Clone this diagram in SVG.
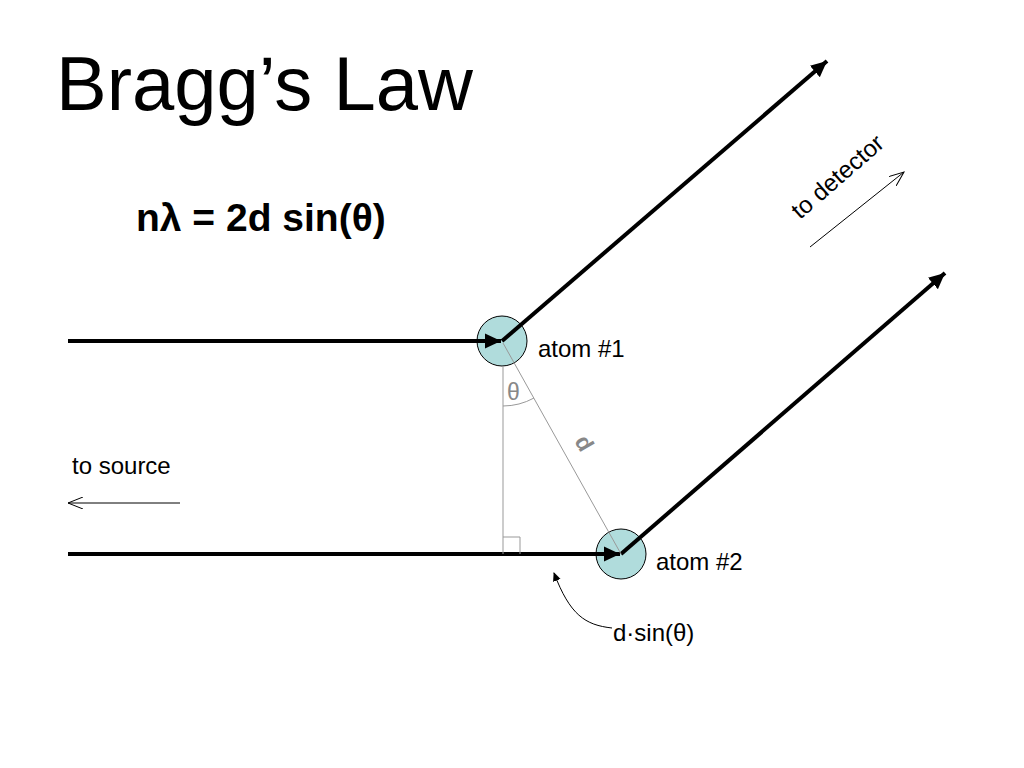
<svg xmlns="http://www.w3.org/2000/svg" width="1024" height="768" viewBox="0 0 1024 768">
<style>
text{font-family:"Liberation Sans",Arial,sans-serif;fill:#000}
.beam{stroke:#000;stroke-width:4;fill:none}
.thin{stroke:#000;stroke-width:1;fill:none}
.gray{stroke:#999;stroke-width:1;fill:none}
.atom{fill:#b0dcdc;stroke:#000;stroke-width:1}
</style>
<defs>
<marker id="ah" markerWidth="5" markerHeight="5" refX="4" refY="2.5" orient="auto" markerUnits="strokeWidth"><path d="M0,0.6 L4,2.5 L0,4.4 Z" fill="#000"/></marker>
<marker id="open" markerWidth="16" markerHeight="12" refX="15" refY="6" orient="auto" markerUnits="userSpaceOnUse"><path d="M0,0 L15,6 L0,12" fill="none" stroke="#000" stroke-width="1"/></marker>
<marker id="sm" markerWidth="10" markerHeight="10" refX="8" refY="5" orient="auto" markerUnits="userSpaceOnUse"><path d="M0,1 L9,5 L0,9 Z" fill="#000"/></marker>
</defs>
<text x="56" y="110" font-size="76">Bragg’s Law</text>
<text x="136" y="231" font-size="39" font-weight="bold">nλ = 2d sin(θ)</text>
<g id="atom1"><circle class="atom" cx="502" cy="341" r="25"/><text x="538" y="357" font-size="24">atom #1</text></g>
<g id="atom2"><circle class="atom" cx="621" cy="554" r="25"/><text x="656" y="570" font-size="24">atom #2</text></g>
<g id="connectors">
<line class="beam" x1="68" y1="341" x2="501" y2="341" marker-end="url(#ah)"/>
<line class="beam" x1="502" y1="341" x2="827" y2="61" marker-end="url(#ah)"/>
<line class="beam" x1="68" y1="554" x2="620" y2="554" marker-end="url(#ah)"/>
<line class="beam" x1="621" y1="554" x2="945" y2="273" marker-end="url(#ah)"/>
<line class="gray" x1="503" y1="343" x2="621" y2="554"/>
<line class="gray" x1="503" y1="366" x2="503" y2="554"/>
<path class="gray" d="M503,537 H520 V554"/>
<path class="gray" d="M503,406 A65,65 0 0 0 534,398"/>
<line class="thin" x1="810" y1="247" x2="904" y2="172" marker-end="url(#open)"/>
<line class="thin" x1="180" y1="503" x2="68" y2="503" marker-end="url(#open)"/>
<path class="thin" d="M612,628 C585,625 570,615 554,573" marker-end="url(#sm)"/>
</g>
<text x="507" y="400" font-size="23" style="fill:#888">θ</text>
<text transform="translate(574,441) rotate(60)" font-size="23" font-weight="bold" style="fill:#888">d</text>
<text transform="translate(800,220) rotate(-41)" font-size="24">to detector</text>
<text x="72" y="474" font-size="24">to source</text>
<text x="613" y="641" font-size="24">d·sin(θ)</text>
</svg>
